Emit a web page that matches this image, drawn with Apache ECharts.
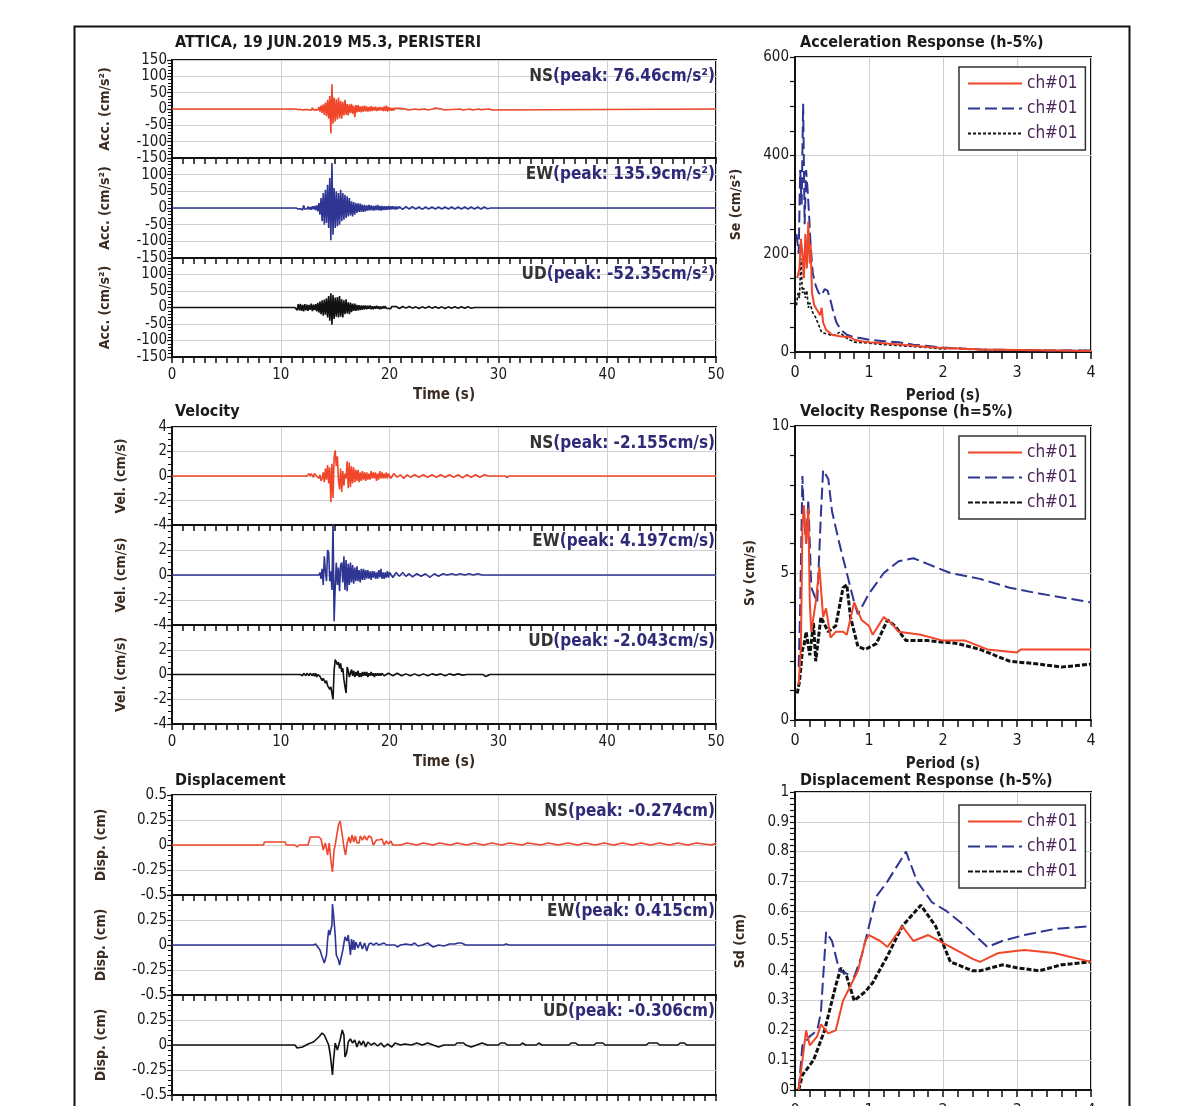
<!DOCTYPE html>
<html><head><meta charset="utf-8">
<script src="https://cdn.jsdelivr.net/npm/echarts@6/dist/echarts.min.js"></script>
<style>html,body{margin:0;padding:0;background:#fff}#c{width:1200px;height:1106px}</style>
</head><body><div id="c"></div>
<script>
// ---------------- DATA ----------------
const TIME_TICKS = [0, 10, 20, 30, 40, 50];
const PERIOD_TICKS = [0, 1, 2, 3, 4];
const PEAKS = {
  accNS: '76.46cm/s²', accEW: '135.9cm/s²', accUD: '-52.35cm/s²',
  velNS: '-2.155cm/s', velEW: '4.197cm/s', velUD: '-2.043cm/s',
  disNS: '-0.274cm', disEW: '0.415cm', disUD: '-0.306cm'
};
// Acceleration time histories: dense samples (every 0.1 s from t0) + sparse tail [t, v]
const accNS_t0 = 11.5;
const accNS_v = [2,-2,3,-1,2,-3,1,-2,3,-2, 3,-3,2,-4,4,-3,2,-2,4,-3,
  6,-8,10,-12,14, -18,20,-22,28,-30, 40,-75,76,-45,35, -38,30,-32,35,-28,
  25,-30,22,-20,28, -18,15,-20,14,-12, 16,-14,10,-25,12, -10,12,-9,8,-10,
  9,-8,10,-7,8, -8,6,-7,9,-6, 6,-5,7,-6,5, -5,6,-4,5,-6, 8,-6,10,-8,6,
  -5,4,-5,3,-4, 3,-3,2,-3,2];
const accNS_tail = [[21.5,0],[21.6,3],[21.7,-3],[21.8,0],[22.4,0],[22.5,3],[22.6,-2],[22.7,0],
  [23.3,0],[23.4,3],[23.5,-3],[23.6,0],[24.0,0],[24.1,-3],[24.2,3],[24.3,0],[24.8,0],[24.9,3],[25.0,-3],[25.1,0],
  [26.5,0],[26.6,3],[26.7,-3],[26.8,0],[27.4,0],[27.5,2],[27.6,-3],[27.7,0],[28.2,0],[28.3,3],[28.4,-2],[28.5,0],
  [29.2,0],[29.3,3],[29.4,-3],[29.5,0],[50,0]];
const accEW_t0 = 11.5;
const accEW_v = [2,-3,3,-2,4,-6,8,-3,2,-3, 4,-4,3,-5,5,-4,6,-6,8,-10,
  15,-20,30,-40,45, -50,55,-45,70,-60, 90,-97,135,-80,60, -60,50,-55,45,-50,
  55,-40,45,-35,40, -30,35,-25,30,-22, 20,-25,18,-20,15, -15,14,-12,13,-12,
  10,-12,9,-10,8, -8,9,-7,8,-7, 6,-8,7,-6,9, -7,6,-8,6,-6, 5,-6,5,-5,6,
  -5,5,-4,5,-4, 4,-4,4,-3,4];
const accEW_tail = [[21.2,-4],[21.5,4],[21.8,-3],[22.1,4],[22.4,-3],[22.7,3],[23.0,-4],[23.3,3],[23.6,-3],[23.9,3],
  [24.2,-3],[24.5,3],[24.8,-3],[25.1,3],[25.4,-3],[25.7,3],[26.0,-3],[26.3,3],[26.6,-3],[26.9,3],[27.2,-3],[27.5,3],
  [27.8,-3],[28.1,3],[28.4,-3],[28.7,3],[29.0,-2],[29.3,0],[31.2,0],[31.3,3],[31.4,0],[36.0,0],[36.1,-3],[36.2,0],
  [45.5,0],[45.6,3],[45.7,0],[50,0]];
const accUD_t0 = 11.4;
const accUD_v = [5,-8,10,-9,11,-10,8,-12,10,-9, 9,-10,8,-7,12,-11,9,-8,10,-12,
  14,-16,18,-20,22, -25,24,-22,28,-30, 35,-40,43,-52,38, -35,30,-28,32,-30,
  35,-28,25,-30,22, -20,25,-18,16,-20, 15,-14,12,-10,12, -10,8,-9,7,-8,
  6,-7,6,-5,6, -5,5,-4,6,-5, 4,-5,4,-4,5, -4,4,-5,3,-4, 4,-3,4,-3,3, -3,3,-4,3,-3];
const accUD_tail = [[20.6,3],[20.9,-3],[21.2,3],[21.5,-2],[21.8,3],[22.1,-2],[22.4,2],[22.7,-3],[23.0,2],[23.3,-2],
  [23.6,3],[23.9,-2],[24.2,2],[24.5,-2],[24.8,2],[25.1,-3],[25.4,2],[25.7,-2],[26.0,2],[26.3,-2],[26.6,2],[26.9,-2],
  [27.2,2],[27.5,-2],[27.8,0],[28.2,0],[28.3,-3],[28.4,0],[30.3,0],[30.4,-3],[30.5,0],[31.5,0],[31.6,-3],[31.7,0],
  [33.0,0],[33.1,-3],[33.2,0],[42.5,0],[42.6,-3],[42.7,0],[50,0]];
// Velocity time histories
const velNS_t0 = 12.5;
const velNS_v = [0.1,0.2,0,0.2,0.1,-0.1,0.2,0.3,0,-0.1, -0.2,0.1,-0.4,-0.2,0.3, -0.5,0.6,-0.3,0.9,-0.6,
  0.7,-2.15,1.0,-1.8,1.5, 2.1,0.8,1.6,-0.3,-1.1, 0.6,-1.3,0.4,-0.8,0.2, -0.2,1.2,-1.0,1.1,-0.9,
  0.8,-0.6,0.7,-0.5,0.5, -0.4,0.5,-0.5,0.3,-0.4, 0.4,-0.3,0.3,-0.4,0.3, -0.3,0.2,-0.3,0.4,-0.2,
  0.3,-0.2,0.3,-0.4,0.2, -0.3,0.4,-0.2,0.3,-0.2, 0.2,-0.2,0.3,-0.2,0.2];
const velNS_tail = [[20.1,-0.2],[20.4,0.2],[20.7,-0.1],[21.0,0.1],[21.3,-0.2],[21.6,0.1],[21.9,-0.1],[22.3,0.1],[22.7,-0.1],
  [23.1,0.1],[23.5,-0.1],[23.9,0.1],[24.3,-0.1],[24.7,0.1],[25.1,-0.1],[25.5,0.1],[25.9,-0.1],[26.3,0.1],[26.7,-0.15],
  [27.1,0.1],[27.5,-0.1],[27.9,0.1],[28.3,-0.1],[28.7,0.1],[29.1,0],[30.6,0],[30.8,-0.1],[31.0,0],[34.0,0],[34.1,0.05],
  [34.2,0],[38.0,0],[38.1,0.1],[38.2,0],[42.0,0],[42.1,0.1],[42.2,0],[43.5,0],[43.6,0.1],[43.7,0],[50,0]];
const velEW_t0 = 13.6;
const velEW_v = [0.2,-0.3,0.5,-0.8,1.5, 0.3,-0.5,2.0,1.8,-0.5, 0.3,-1.2,4.2,-3.7,-1.0, 1.0,-0.8,0.6,-1.3,0.8,
  1.0,-0.6,1.5,-1.2,1.2, -1.3,0.9,-0.8,1.0,-0.6, 0.8,-0.7,0.6,-0.5,0.7, -0.5,0.4,-0.6,0.5,-0.4,
  0.5,-0.4,0.4,-0.3,0.4, -0.3,0.3,-0.4,0.3,-0.2, 0.3,-0.3,0.2,-0.3,0.4, -0.2,0.5,-0.3,0.2,-0.3, 0.2,-0.2,0.3,-0.2,0.2];
const velEW_pre = [[12.4,0],[12.5,0.15],[12.6,0]];
const velEW_tail = [[20.3,-0.2],[20.6,0.2],[20.9,-0.1],[21.2,0.2],[21.5,-0.1],[21.8,0.1],[22.1,-0.15],[22.5,0.1],[22.9,-0.1],
  [23.3,0.1],[23.7,-0.2],[24.1,0.1],[24.5,-0.1],[24.9,0.1],[25.3,0],[25.7,0.1],[26.1,0],[26.5,0.1],[26.9,0],[27.3,0.1],
  [27.7,0],[28.1,0.1],[28.5,0],[30.5,0],[30.6,0.1],[30.7,0],[32.0,0],[32.1,0.1],[32.2,0],[33.3,0],[33.4,0.1],[33.5,0],
  [35.3,0],[35.4,0.1],[35.5,0],[44.6,0],[44.7,0.1],[44.8,0],[50,0]];
const velUD_t0 = 11.9;
const velUD_v = [0.1,-0.1,0.1,0,-0.1,0.1,0.05,-0.1,0.1,0, -0.1,0.1,-0.15,0.1,-0.2, 0,-0.1,-0.15,-0.3,-0.5,
  -0.3,-0.5,-0.7,-0.5,-0.9, -0.8,-1.2,-1.0,-1.5,-2.0, 0.3,1.2,1.1,0.8,1.0, 0.5,0.9,0.2,0.5,-0.4,
  -1.0,-1.5,0.6,0.3,-0.2, -0.3,0.4,-0.1,0.3,-0.2, 0.2,-0.1,0.3,-0.2,0.1, -0.2,0.2,-0.1,0.2,-0.1,
  0.2,-0.2,0.1,-0.1,0.2, -0.1,0.1,-0.2,0.1,-0.1, 0.1,-0.1,0.1,-0.1,0.1];
const velUD_tail = [[19.5,-0.1],[19.9,0.1],[20.3,-0.1],[20.7,0.1],[21.1,-0.1],[21.5,0.05],[21.9,-0.1],[22.3,0.05],
  [22.7,-0.1],[23.1,0.05],[23.5,-0.1],[23.9,0.05],[24.3,-0.05],[24.7,0.05],[25.1,-0.1],[25.5,0.05],[25.9,-0.05],
  [26.3,0.05],[26.7,-0.05],[27.1,0],[28.6,0],[28.8,-0.15],[29.0,-0.1],[29.2,0],[30.8,0],[30.9,-0.05],[31.0,0],
  [33.4,0],[33.5,0.05],[33.6,0],[34.8,0],[34.9,0.05],[35.0,0],[50,0]];
// Displacement time histories [t, v]
const disNS = [[0,0],[8.4,0],[8.5,0.03],[10.4,0.03],[10.5,0],[11.3,0],[11.5,-0.02],[11.7,0],[12.5,0],[12.7,0.08],
  [13.5,0.08],[13.7,0.06],[13.9,-0.05],[14.1,0.02],[14.3,-0.1],[14.45,0.02],[14.6,-0.15],[14.75,-0.27],[14.9,-0.05],
  [15.0,0.0],[15.15,0.1],[15.3,0.2],[15.45,0.24],[15.65,0.1],[15.8,-0.02],[15.95,-0.1],[16.1,0.02],[16.25,0.08],
  [16.4,0.02],[16.55,0.1],[16.7,0.03],[16.85,0.09],[17.0,0.02],[17.2,0.02],[17.3,0.09],[17.5,0.05],[17.7,0.09],
  [17.9,0.05],[18.1,0.09],[18.3,0.08],[18.5,0.0],[18.6,-0.02],[18.8,0.05],[19.0,0.05],[19.1,0.03],[19.3,0.06],
  [19.5,0.0],[19.7,0.04],[19.9,0.01],[20.1,0.04],[20.3,0.0],[21.0,0],[21.1,0.02],[21.6,0.02],[21.7,0],[22.5,0],
  [22.6,0.02],[23.1,0.02],[23.2,0],[24.0,0],[24.1,0.02],[24.6,0.02],[24.7,0],[25.6,0],[25.7,0.02],[26.2,0.02],
  [26.3,0],[27.1,0],[27.2,0.02],[27.8,0.02],[27.9,0],[28.6,0],[28.7,0.02],[29.4,0.02],[29.5,0],[30.3,0],[30.4,0.02],
  [31.0,0.02],[31.1,0],[32.2,0],[32.3,0.02],[32.7,0.02],[32.8,0],[33.9,0],[34.0,0.02],[34.6,0.02],[34.7,0],
  [35.5,0],[35.6,0.02],[36.4,0.02],[36.5,0],[37.3,0],[37.4,0.02],[38.0,0.02],[38.1,0],[38.9,0],[39.0,0.02],
  [39.7,0.02],[39.8,0],[40.6,0],[40.7,0.02],[41.4,0.02],[41.5,0],[42.3,0],[42.4,0.02],[43.1,0.02],[43.2,0],
  [44.0,0],[44.1,0.02],[44.8,0.02],[44.9,0],[45.7,0],[45.8,0.02],[46.5,0.02],[46.6,0],[47.4,0],[47.5,0.02],
  [48.2,0.02],[48.3,0],[49.6,0],[49.7,0.02],[50,0.02]];
const disEW = [[0,0],[13.0,0],[13.2,0.01],[13.4,-0.02],[13.6,-0.05],[13.8,-0.12],[14.0,-0.18],[14.1,-0.2],[14.2,-0.1],
  [14.3,0.05],[14.4,0.15],[14.5,0.1],[14.6,0.08],[14.7,0.2],[14.75,0.41],[14.85,0.3],[15.0,0.1],[15.1,-0.1],
  [15.3,-0.15],[15.4,-0.2],[15.5,-0.19],[15.7,-0.05],[15.9,0.08],[16.0,0.1],[16.1,0.04],[16.2,0.1],[16.3,0.0],
  [16.4,-0.1],[16.5,0.06],[16.6,-0.05],[16.7,0.05],[16.8,-0.05],[16.9,0.03],[17.1,-0.03],[17.3,0.03],[17.5,-0.04],
  [17.7,0.02],[17.9,-0.06],[18.1,0.01],[18.3,0.02],[18.5,0.0],[18.8,0.02],[19.0,0.0],[19.5,0.02],[19.7,0],
  [20.5,0],[20.7,-0.02],[21.0,0],[21.5,0.01],[22.0,0],[22.3,0.02],[22.6,-0.01],[23.0,0],[23.5,0.02],[24.0,-0.02],
  [24.5,0],[25.0,-0.01],[25.5,0.01],[26.0,0.01],[26.3,0.02],[26.6,0.02],[27.0,0],[30.5,0],[30.7,0.01],[31.0,0],
  [44.4,0],[44.5,-0.02],[44.6,0],[50,0]];
const disUD = [[0,0],[11.3,0],[11.5,-0.03],[12.0,-0.02],[12.5,0.01],[13.0,0.03],[13.5,0.08],[13.8,0.12],[14.0,0.1],
  [14.2,0.05],[14.4,0.0],[14.55,-0.1],[14.65,-0.2],[14.75,-0.3],[14.85,-0.15],[15.0,0.02],[15.2,-0.05],[15.45,0.05],
  [15.65,0.15],[15.8,0.1],[15.9,-0.12],[16.05,-0.08],[16.2,0.03],[16.4,0.06],[16.6,0.02],[16.8,0.05],[17.0,-0.02],
  [17.2,0.04],[17.4,0.0],[17.6,0.04],[17.8,-0.02],[18.0,0.03],[18.3,0.0],[18.6,0.02],[18.9,-0.01],[19.2,0.02],
  [19.5,-0.02],[19.8,0.01],[20.2,-0.02],[20.5,0.02],[21.0,0],[21.4,0.01],[22.0,0],[22.5,0.02],[23.0,0],[23.5,0.02],
  [24.0,0],[24.5,-0.02],[25.0,0],[26.0,0],[26.2,0.02],[26.8,0.02],[27.0,0],[27.5,-0.02],[28.0,0],[28.5,0.02],[29.0,0],
  [30.0,0],[30.2,0.02],[30.6,0.02],[30.8,0],[32.0,0],[32.2,0.02],[32.5,0],[33.5,0],[33.7,0.02],[34.0,0],[36.5,0],
  [36.7,0.02],[37.1,0.02],[37.3,0],[38.8,0],[39.0,0.02],[39.6,0.02],[39.8,0],[43.6,0],[43.8,0.02],[44.6,0.02],
  [44.8,0],[46.5,0],[46.7,0.02],[47.1,0.02],[47.3,0],[50,0]];
// Response spectra (period s, value)
const saNS = [[0.03,150],[0.06,170],[0.08,230],[0.1,200],[0.12,150],[0.14,240],[0.16,170],[0.18,265],[0.2,180],[0.21,220],
  [0.23,120],[0.26,95],[0.3,85],[0.34,75],[0.36,90],[0.38,60],[0.42,45],[0.5,35],[0.6,32],[0.75,30],[0.8,25],[0.9,22],
  [1.0,20],[1.2,18],[1.5,14],[1.8,10],[2.0,8],[2.5,5],[3.0,4],[3.5,3],[4.0,2]];
const saEW = [[0.02,240],[0.05,200],[0.07,370],[0.09,300],[0.11,505],[0.13,260],[0.15,370],[0.17,330],[0.19,280],[0.21,220],
  [0.24,160],[0.28,135],[0.32,120],[0.36,115],[0.4,128],[0.44,125],[0.48,105],[0.52,80],[0.56,60],[0.62,45],[0.7,35],
  [0.8,30],[0.9,28],[1.0,25],[1.2,22],[1.4,20],[1.6,15],[1.8,12],[2.0,9],[2.2,7],[2.5,5],[3.0,4],[3.5,3],[4.0,3]];
const saUD = [[0.02,95],[0.04,120],[0.06,110],[0.08,190],[0.1,120],[0.12,130],[0.14,110],[0.16,125],[0.18,90],[0.2,100],
  [0.24,80],[0.28,70],[0.32,55],[0.36,40],[0.4,38],[0.45,36],[0.5,33],[0.55,35],[0.6,40],[0.7,28],[0.8,20],[1.0,18],
  [1.2,15],[1.5,12],[1.8,9],[2.0,6],[2.2,8],[2.5,5],[3.0,4],[3.5,3],[4.0,3]];
const svNS = [[0.05,1.2],[0.08,2.5],[0.1,6.5],[0.12,7.3],[0.15,6.0],[0.18,7.2],[0.2,4.0],[0.22,3.0],[0.28,4.0],[0.33,5.2],
  [0.38,3.5],[0.42,3.8],[0.48,2.8],[0.55,3.0],[0.65,3.0],[0.7,2.9],[0.8,4.0],[0.9,3.4],[1.0,3.2],[1.05,2.9],[1.2,3.5],
  [1.3,3.3],[1.4,3.0],[1.7,2.9],[2.0,2.7],[2.3,2.7],[2.6,2.4],[3.0,2.3],[3.05,2.4],[4.0,2.4]];
const svEW = [[0.05,1.8],[0.07,3.8],[0.1,8.3],[0.12,7.0],[0.15,6.0],[0.18,7.5],[0.22,4.5],[0.3,4.0],[0.35,7.0],[0.38,8.5],
  [0.45,8.2],[0.5,7.1],[0.6,6.0],[0.7,5.0],[0.8,4.0],[0.85,3.6],[1.0,4.3],[1.2,5.0],[1.4,5.4],[1.6,5.5],[1.8,5.3],
  [2.1,5.0],[2.5,4.8],[2.9,4.5],[3.3,4.3],[4.0,4.0]];
const svUD = [[0.03,0.9],[0.06,1.3],[0.08,1.8],[0.1,2.4],[0.12,2.5],[0.15,3.0],[0.2,2.2],[0.25,3.3],[0.28,2.0],[0.35,3.5],
  [0.45,3.0],[0.55,3.2],[0.65,4.5],[0.7,4.6],[0.75,3.5],[0.85,2.5],[0.95,2.4],[1.1,2.6],[1.25,3.4],[1.35,3.2],[1.5,2.7],
  [1.8,2.7],[2.2,2.6],[2.5,2.4],[2.9,2.0],[3.3,1.9],[3.6,1.8],[4.0,1.9]];
const sdNS = [[0.05,0.0],[0.1,0.1],[0.15,0.2],[0.2,0.15],[0.3,0.18],[0.35,0.22],[0.45,0.19],[0.55,0.2],[0.65,0.3],
  [0.75,0.35],[0.85,0.4],[0.95,0.5],[1.0,0.52],[1.15,0.5],[1.25,0.48],[1.45,0.55],[1.6,0.5],[1.8,0.52],[2.1,0.48],
  [2.4,0.44],[2.5,0.43],[2.75,0.46],[3.1,0.47],[3.5,0.46],[4.0,0.43]];
const sdEW = [[0.05,0.0],[0.1,0.15],[0.2,0.18],[0.3,0.2],[0.35,0.26],[0.42,0.53],[0.5,0.5],[0.6,0.4],[0.8,0.38],[0.9,0.45],
  [1.0,0.55],[1.1,0.65],[1.25,0.7],[1.5,0.8],[1.65,0.7],[1.85,0.63],[2.05,0.6],[2.3,0.55],[2.6,0.48],[2.8,0.5],
  [3.1,0.52],[3.5,0.54],[4.0,0.55]];
const sdUD = [[0.05,0.0],[0.1,0.05],[0.25,0.1],[0.4,0.2],[0.55,0.35],[0.62,0.41],[0.7,0.38],[0.8,0.3],[0.95,0.33],
  [1.05,0.36],[1.25,0.45],[1.45,0.55],[1.7,0.62],[1.9,0.55],[2.1,0.43],[2.4,0.4],[2.5,0.4],[2.8,0.42],[3.0,0.41],
  [3.3,0.4],[3.6,0.42],[4.0,0.43]];

// ---------------- BUILD ----------------
function dense(t0, vals) { return vals.map((v, i) => [Math.round((t0 + i * 0.1) * 100) / 100, v]); }
function trace(t0, vals, pre, tail) { return [[0, 0]].concat(pre || [], [[Math.round((t0 - 0.1) * 100) / 100, 0]], dense(t0, vals), tail); }

const FONT = "'DejaVu Sans Condensed','Liberation Sans Narrow','Roboto Condensed','DejaVu Sans',sans-serif";
const RED = '#f0462a', BLUE = '#2e3592', BLK = '#111';
const AXC = '#111', GRIDC = '#cfcfcf', LBL = '#1a1a1a', NAMEC = '#3a2c22';

const grids = [], xAxes = [], yAxes = [], series = [], titles = [];
const L = 172, LW = 544;
const leftTops = [[60, 98], [158, 100], [258, 99], [427, 98], [525, 100], [625, 99], [795, 100], [895, 100], [995, 100]];
const leftDefs = [
  { y: [-150, 150, 50, 5], name: 'Acc. (cm/s²)', gap: 60, d: trace(accNS_t0, accNS_v, [], accNS_tail), c: RED, lab: 'NS', pk: PEAKS.accNS },
  { y: [-150, 150, 50, 5], name: 'Acc. (cm/s²)', gap: 60, d: trace(accEW_t0, accEW_v, [], accEW_tail), c: BLUE, lab: 'EW', pk: PEAKS.accEW },
  { y: [-150, 150, 50, 5], name: 'Acc. (cm/s²)', gap: 60, d: trace(accUD_t0, accUD_v, [], accUD_tail), c: BLK, lab: 'UD', pk: PEAKS.accUD },
  { y: [-4, 4, 2, 4], name: 'Vel. (cm/s)', gap: 44, d: trace(velNS_t0, velNS_v, [], velNS_tail), c: RED, lab: 'NS', pk: PEAKS.velNS },
  { y: [-4, 4, 2, 4], name: 'Vel. (cm/s)', gap: 44, d: trace(velEW_t0, velEW_v, velEW_pre, velEW_tail), c: BLUE, lab: 'EW', pk: PEAKS.velEW },
  { y: [-4, 4, 2, 4], name: 'Vel. (cm/s)', gap: 44, d: trace(velUD_t0, velUD_v, [], velUD_tail), c: BLK, lab: 'UD', pk: PEAKS.velUD },
  { y: [-0.5, 0.5, 0.25, 5], name: 'Disp. (cm)', gap: 64, d: disNS, c: RED, lab: 'NS', pk: PEAKS.disNS },
  { y: [-0.5, 0.5, 0.25, 5], name: 'Disp. (cm)', gap: 64, d: disEW, c: BLUE, lab: 'EW', pk: PEAKS.disEW },
  { y: [-0.5, 0.5, 0.25, 5], name: 'Disp. (cm)', gap: 64, d: disUD, c: BLK, lab: 'UD', pk: PEAKS.disUD }
];
leftDefs.forEach((def, i) => {
  const [top, h] = leftTops[i];
  grids.push({ left: L, top: top, width: LW, height: h, show: true, borderColor: AXC, borderWidth: 2, backgroundColor: '#fff', outerBoundsMode: 'none' });
  const bottomPanel = (i % 3 === 2);
  xAxes.push({
    type: 'value', gridIndex: i, min: TIME_TICKS[0], max: TIME_TICKS[TIME_TICKS.length - 1], interval: 10,
    axisLine: { show: true, onZero: false, lineStyle: { color: AXC, width: 2 } },
    axisTick: { show: true, length: 6, lineStyle: { color: AXC, width: 1.5 } },
    minorTick: { show: true, splitNumber: 10, length: 6, lineStyle: { color: AXC, width: 1.5 } },
    axisLabel: { show: bottomPanel && i < 8, margin: 11, fontFamily: FONT, fontSize: 15, color: LBL },
    splitLine: { show: true, lineStyle: { color: GRIDC, width: 1 } },
    name: (bottomPanel && i < 8) ? 'Time (s)' : '', nameLocation: 'middle', nameGap: 31,
    nameTextStyle: { fontFamily: FONT, fontSize: 15, color: NAMEC, fontWeight: 'bold' }
  });
  yAxes.push({
    type: 'value', gridIndex: i, min: def.y[0], max: def.y[1], interval: def.y[2],
    axisLine: { show: true, onZero: false, lineStyle: { color: AXC, width: 2 } },
    axisTick: { show: true, length: 5, lineStyle: { color: AXC, width: 1.2 } },
    minorTick: { show: true, splitNumber: def.y[3], length: 4, lineStyle: { color: AXC, width: 1 } },
    axisLabel: { show: true, margin: 5, fontFamily: FONT, fontSize: 15, color: LBL, showMaxLabel: (i % 3 === 0) },
    splitLine: { show: true, lineStyle: { color: GRIDC, width: 1 } },
    name: def.name, nameLocation: 'middle', nameGap: def.gap,
    nameTextStyle: { fontFamily: FONT, fontSize: 14, color: NAMEC, fontWeight: 'bold' }
  });
  series.push({ type: 'line', name: 'th' + i, xAxisIndex: i, yAxisIndex: i, data: def.d, symbol: 'none', showSymbol: false,
    lineStyle: { color: def.c, width: 1.6 }, itemStyle: { color: def.c }, animation: false, silent: true, z: 3 });
  titles.push({ text: '{a|' + def.lab + '}{b|(peak: ' + def.pk + ')}', right: 1200 - 715, top: top + 8, padding: 0,
    textStyle: { rich: {
      a: { fontFamily: FONT, fontSize: 17, fontWeight: 'bold', color: '#333' },
      b: { fontFamily: FONT, fontSize: 17, fontWeight: 'bold', color: '#2f2a78' } } } });
});

// right spectra
const R = 795, RW = 296;
const rightDefs = [
  { top: 57, h: 295, y: [0, 600, 200, 4], name: 'Se (cm/s²)', gap: 52, xname: 'Period (s)', s: [saNS, saEW, saUD], blkW: 1.6, blkDash: [3, 2], legTop: 67 },
  { top: 426, h: 294, y: [0, 10, 5, 5], name: 'Sv (cm/s)', gap: 38, xname: 'Period (s)', s: [svNS, svEW, svUD], blkW: 3, blkDash: [5, 2], legTop: 436 },
  { top: 792, h: 298, y: [0, 1, 0.1, 5], name: 'Sd (cm)', gap: 48, xname: '', s: [sdNS, sdEW, sdUD], blkW: 3, blkDash: [5, 2], legTop: 805 }
];
const legends = [];
rightDefs.forEach((def, k) => {
  const gi = 9 + k;
  grids.push({ left: R, top: def.top, width: RW, height: def.h, show: true, borderColor: AXC, borderWidth: 2, backgroundColor: '#fff', outerBoundsMode: 'none' });
  xAxes.push({
    type: 'value', gridIndex: gi, min: PERIOD_TICKS[0], max: PERIOD_TICKS[PERIOD_TICKS.length - 1], interval: 1,
    axisLine: { show: true, onZero: false, lineStyle: { color: AXC, width: 2 } },
    axisTick: { show: true, length: 7, lineStyle: { color: AXC, width: 1.5 } },
    minorTick: { show: true, splitNumber: 5, length: 7, lineStyle: { color: AXC, width: 1.5 } },
    axisLabel: { show: true, margin: 13, fontFamily: FONT, fontSize: 16, color: LBL },
    splitLine: { show: true, lineStyle: { color: GRIDC, width: 1 } },
    name: def.xname, nameLocation: 'middle', nameGap: 37,
    nameTextStyle: { fontFamily: FONT, fontSize: 15, color: '#222', fontWeight: 'bold' }
  });
  yAxes.push({
    type: 'value', gridIndex: gi, min: def.y[0], max: def.y[1], interval: def.y[2],
    axisLine: { show: true, onZero: false, lineStyle: { color: AXC, width: 2 } },
    axisTick: { show: true, length: 5, lineStyle: { color: AXC, width: 1.2 } },
    minorTick: { show: true, splitNumber: def.y[3], length: 5, lineStyle: { color: AXC, width: 1.2 } },
    axisLabel: { show: true, margin: 6, fontFamily: FONT, fontSize: 15, color: LBL },
    splitLine: { show: true, lineStyle: { color: GRIDC, width: 1 } },
    name: def.name, nameLocation: 'middle', nameGap: def.gap,
    nameTextStyle: { fontFamily: FONT, fontSize: 14, color: NAMEC, fontWeight: 'bold' }
  });
  const names = ['r' + k, 'b' + k, 'k' + k];
  const styles = [
    { color: RED, width: 2, type: 'solid' },
    { color: BLUE, width: 2, type: [12, 5] },
    { color: BLK, width: def.blkW, type: def.blkDash }
  ];
  def.s.forEach((d, j) => {
    series.push({ type: 'line', name: names[j], xAxisIndex: gi, yAxisIndex: gi, data: d, symbol: 'none', showSymbol: false,
      lineStyle: styles[j], itemStyle: { color: styles[j].color }, animation: false, z: 3 + (2 - j) });
  });
  legends.push({
    data: names, orient: 'vertical', left: 959, top: def.legTop,
    padding: [8, 8, 8, 8], itemGap: 8, itemWidth: 54, itemHeight: 18,
    itemStyle: { opacity: 0 },
    backgroundColor: '#fff', borderColor: '#333', borderWidth: 1.5, selectedMode: false,
    formatter: () => 'ch#01', textStyle: { fontFamily: FONT, fontSize: 17, color: '#4a2458' }, z: 10
  });
});

// panel titles
const TT = { fontFamily: FONT, fontSize: 16, color: '#1a1a1a', fontWeight: 'bold' };
titles.push({ text: 'ATTICA, 19 JUN.2019 M5.3, PERISTERI', left: 175, top: 35, padding: 0, textStyle: TT });
titles.push({ text: 'Velocity', left: 175, top: 404, padding: 0, textStyle: TT });
titles.push({ text: 'Displacement', left: 175, top: 773, padding: 0, textStyle: TT });
titles.push({ text: 'Acceleration Response (h-5%)', left: 800, top: 35, padding: 0, textStyle: TT });
titles.push({ text: 'Velocity Response (h=5%)', left: 800, top: 404, padding: 0, textStyle: TT });
titles.push({ text: 'Displacement Response (h-5%)', left: 800, top: 773, padding: 0, textStyle: TT });

const chart = echarts.init(document.getElementById('c'), null, { renderer: 'canvas' });
chart.setOption({
  backgroundColor: '#fff',
  animation: false,
  title: titles,
  legend: legends,
  grid: grids,
  xAxis: xAxes,
  yAxis: yAxes,
  series: series,
  graphic: [{ type: 'rect', left: 72, top: 24, shape: { width: 1055, height: 1100 }, style: { fill: 'none', stroke: '#111', lineWidth: 2 }, silent: true, z: 100 }]
});
</script></body></html>
